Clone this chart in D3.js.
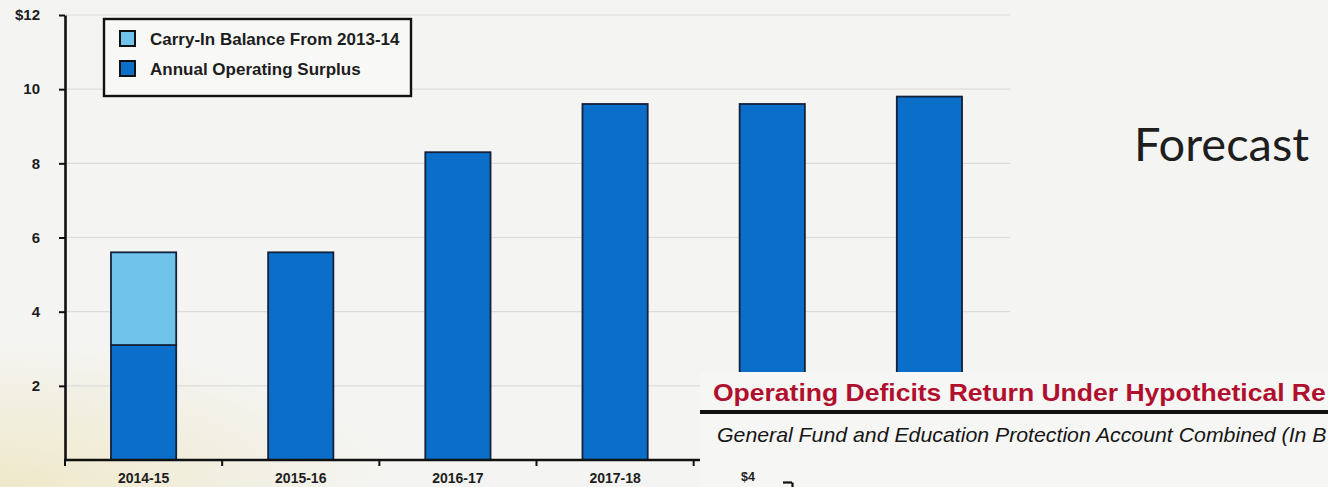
<!DOCTYPE html>
<html>
<head>
<meta charset="utf-8">
<script src="https://cdn.jsdelivr.net/npm/d3@7"></script>
<style>
  html, body { margin: 0; padding: 0; background: #f4f4f2; overflow: hidden; }
  svg { display: block; }
</style>
</head>
<body>
<svg id="chart" width="1328" height="487"></svg>
<script>
// Fiscal years on the horizontal axis
const years = ["2014-15", "2015-16", "2016-17", "2017-18", "2018-19", "2019-20"];
// Billions of dollars
const carryIn = [2.5, 0, 0, 0, 0, 0];
const operatingSurplus = [3.1, 5.6, 8.3, 9.6, 9.6, 9.8];
const yTickValues = [2, 4, 6, 8, 10, 12];
const legendLabels = ["Carry-In Balance From 2013-14", "Annual Operating Surplus"];
const sideLabel = "Forecast";
// heading and subheading of the overlapping panel, as far as they run before the edge
const insetTitle = "Operating Deficits Return Under Hypothetical Re";
const insetSubtitle = "General Fund and Education Protection Account Combined (In B";
const insetTickValues = [4];

const W = 1328, H = 487;
const BLUE = "#0b6fc9", LIGHT = "#70c4ec", INK = "#13213a";
const SANS = "Liberation Sans, Arial, sans-serif";

const svg = d3.select("#chart");
const defs = svg.append("defs");

// paper tint
const rg = defs.append("radialGradient").attr("id", "tint")
  .attr("cx", 0.0).attr("cy", 1.0).attr("r", 0.3);
rg.append("stop").attr("offset", 0).attr("stop-color", "#ece3b4").attr("stop-opacity", 0.65);
rg.append("stop").attr("offset", 1).attr("stop-color", "#ece3b4").attr("stop-opacity", 0);
svg.append("rect").attr("width", W).attr("height", H).attr("fill", "#f4f4f2");
svg.append("rect").attr("width", W).attr("height", H).attr("fill", "url(#tint)");

// the inset panel covers the lower right corner of the bar chart
const inset = { x: 700, y: 372 };
defs.append("clipPath").attr("id", "mainClip").append("path")
  .attr("d", `M0,0H${W}V${inset.y}H${inset.x}V${H}H0Z`);

const x = d3.scaleBand().domain(years).range([65, 1008])
  .paddingInner(0.585).paddingOuter(0.2925);
const y = d3.scaleLinear().domain([0, 12]).range([460, 15]);

const main = svg.append("g").attr("clip-path", "url(#mainClip)");

// gridlines
main.append("g").selectAll("line").data(yTickValues).join("line")
  .attr("x1", 66).attr("x2", 1010)
  .attr("y1", d => y(d)).attr("y2", d => y(d))
  .attr("stroke", "#dcdcd9").attr("stroke-width", 1.2);

// stacked bars
const rows = years.map((yr, i) => ({ yr, op: operatingSurplus[i], carry: carryIn[i] }));
const bars = main.append("g");
bars.selectAll("rect.op").data(rows).join("rect").attr("class", "op")
  .attr("x", d => x(d.yr)).attr("width", x.bandwidth())
  .attr("y", d => y(d.op)).attr("height", d => y(0) - y(d.op))
  .attr("fill", BLUE).attr("stroke", INK).attr("stroke-width", 1.8);
bars.selectAll("rect.carry").data(rows.filter(d => d.carry > 0)).join("rect").attr("class", "carry")
  .attr("x", d => x(d.yr)).attr("width", x.bandwidth())
  .attr("y", d => y(d.op + d.carry)).attr("height", d => y(d.op) - y(d.op + d.carry))
  .attr("fill", LIGHT).attr("stroke", INK).attr("stroke-width", 1.8);

// x axis: labels only for the years left of the inset panel
const shownYears = years.filter(yr => x(yr) + x.bandwidth() < inset.x);
const xAxis = main.append("g").attr("transform", `translate(0,${y(0)})`)
  .call(d3.axisBottom(x).tickValues(shownYears).tickSize(0).tickPadding(13));
xAxis.select(".domain").remove();
xAxis.selectAll("text")
  .attr("font-family", SANS).attr("font-weight", "bold").attr("font-size", 14).attr("fill", "#1d1d1d");
main.append("line").attr("x1", 64).attr("x2", 1008).attr("y1", y(0)).attr("y2", y(0))
  .attr("stroke", "#111").attr("stroke-width", 2.6);
main.append("g").selectAll("line").data(d3.range(years.length + 1)).join("line")
  .attr("x1", k => x.range()[0] + k * x.step()).attr("x2", k => x.range()[0] + k * x.step())
  .attr("y1", y(0)).attr("y2", y(0) + 6)
  .attr("stroke", "#111").attr("stroke-width", 2);

// y axis
const yAxis = svg.append("g").attr("transform", "translate(65,0)")
  .call(d3.axisLeft(y).tickValues(yTickValues).tickSize(6).tickSizeOuter(0).tickPadding(19)
    .tickFormat(d => d === 12 ? "$12" : d));
yAxis.select(".domain").attr("stroke", "#111").attr("stroke-width", 2.6);
yAxis.selectAll(".tick line").attr("stroke", "#111").attr("stroke-width", 2);
yAxis.selectAll("text")
  .attr("font-family", SANS).attr("font-weight", "bold").attr("font-size", 15).attr("fill", "#1d1d1d");

// legend
const lg = svg.append("g").attr("transform", "translate(104,19)");
lg.append("rect").attr("width", 307).attr("height", 77)
  .attr("fill", "#f8f8f7").attr("stroke", "#111").attr("stroke-width", 2.4);
const items = lg.selectAll("g.item").data(legendLabels).join("g").attr("class", "item")
  .attr("transform", (d, i) => `translate(16,${12 + i * 30})`);
items.append("rect").attr("width", 15).attr("height", 15)
  .attr("fill", (d, i) => i === 0 ? LIGHT : BLUE)
  .attr("stroke", "#111").attr("stroke-width", 2);
items.append("text").text(d => d)
  .attr("x", 30).attr("y", 13.5)
  .attr("font-family", SANS).attr("font-weight", "bold").attr("font-size", 17).attr("fill", "#1d1d1d");

// side heading
svg.append("text").text(sideLabel)
  .attr("x", 1134).attr("y", 161)
  .attr("font-family", "Lato, sans-serif").attr("font-size", 47).attr("fill", "#1e1e1e");

// inset panel
const ig = svg.append("g");
ig.append("rect").attr("x", inset.x).attr("y", inset.y)
  .attr("width", W - inset.x).attr("height", H - inset.y).attr("fill", "#f6f6f5");

// stretch a text horizontally so that it spans [x0, x1]
function spanText(parent, str, x0, x1, baseline, attrs) {
  const g = parent.append("g");
  const t = g.append("text").text(str);
  Object.entries(attrs).forEach(([k, v]) => t.attr(k, v));
  const w = t.node().getComputedTextLength();
  g.attr("transform", `translate(${x0},${baseline}) scale(${(x1 - x0) / w},1)`);
  return t;
}
spanText(ig, insetTitle, 713, 1326, 401,
  { "font-family": SANS, "font-weight": "bold", "font-size": 24, "fill": "#b0102d" });
ig.append("line").attr("x1", 700).attr("x2", W).attr("y1", 412).attr("y2", 412)
  .attr("stroke", "#111").attr("stroke-width", 4);
spanText(ig, insetSubtitle, 717, 1327, 442,
  { "font-family": SANS, "font-style": "italic", "font-size": 20, "fill": "#161616" });

// inset value axis (only its top is in view)
const yi = d3.scaleLinear().domain([0, 4]).range([600, 482]);
const yiAxis = ig.append("g").attr("transform", "translate(792,0)")
  .call(d3.axisLeft(yi).tickValues(insetTickValues).tickSize(9).tickSizeOuter(0).tickPadding(28)
    .tickFormat(d => "$" + d));
yiAxis.select(".domain").attr("stroke", "#111").attr("stroke-width", 2.2);
yiAxis.selectAll(".tick line").attr("stroke", "#111").attr("stroke-width", 2.2);
yiAxis.selectAll("text").attr("dy", "-0.15em")
  .attr("font-family", SANS).attr("font-weight", "bold").attr("font-size", 12.5).attr("fill", "#1d1d1d");
</script>
</body>
</html>
